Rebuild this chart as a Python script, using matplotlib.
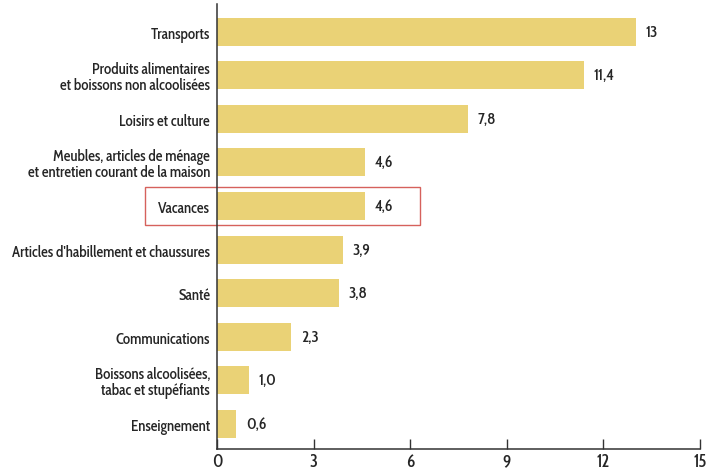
import matplotlib
matplotlib.use('Agg')
import matplotlib.pyplot as plt
from matplotlib.patches import Rectangle

plt.rcParams['font.family'] = ['Cabin Condensed', 'DejaVu Sans']
plt.rcParams['font.weight'] = 500

categories = ['Transports',
              'Produits alimentaires\net boissons non alcoolisées',
              'Loisirs et culture',
              'Meubles, articles de ménage\net entretien courant de la maison',
              'Vacances',
              "Articles d'habillement et chaussures",
              'Santé',
              'Communications',
              'Boissons alcoolisées,\ntabac et stupéfiants',
              'Enseignement']
values = [13, 11.4, 7.8, 4.6, 4.6, 3.9, 3.8, 2.3, 1.0, 0.6]
value_labels = ['13', '11,4', '7,8', '4,6', '4,6', '3,9', '3,8', '2,3', '1,0', '0,6']
xticks = [0, 3, 6, 9, 12, 15]

bar_color = '#EAD276'
text_color = '#262626'

fig = plt.figure(figsize=(7.07, 4.77), dpi=100)
ax = fig.add_axes([0.307, 0.057, 0.683, 0.933])

pos = list(range(len(categories)))
ax.barh(pos, values, height=0.64, color=bar_color)
for p, v, lab in zip(pos, values, value_labels):
    ax.text(v + 0.3, p, lab, va='center', ha='left', fontsize=11.5, color=text_color)

ax.set_yticks(pos)
ax.set_yticklabels(categories, fontsize=10.8, color=text_color, linespacing=1.0)
ax.tick_params(axis='y', length=0, pad=5)
ax.set_xticks(xticks)
ax.set_xticklabels([str(t) for t in xticks], fontsize=12.5, color=text_color)
ax.tick_params(axis='x', direction='in', length=7, width=1, color='#333333', pad=3)
ax.set_xlim(0, 15)
ax.set_ylim(9.57, -0.64)

for s in ['top', 'right']:
    ax.spines[s].set_visible(False)
for s in ['left', 'bottom']:
    ax.spines[s].set_color('#333333')
    ax.spines[s].set_linewidth(1.1)

# highlight box around "Vacances"
rect = Rectangle((-2.24, 4 - 0.44), 8.54, 0.88, fill=False,
                 edgecolor='#D6615C', linewidth=1.0, clip_on=False)
ax.add_patch(rect)

fig.savefig('out.png', dpi=100)
